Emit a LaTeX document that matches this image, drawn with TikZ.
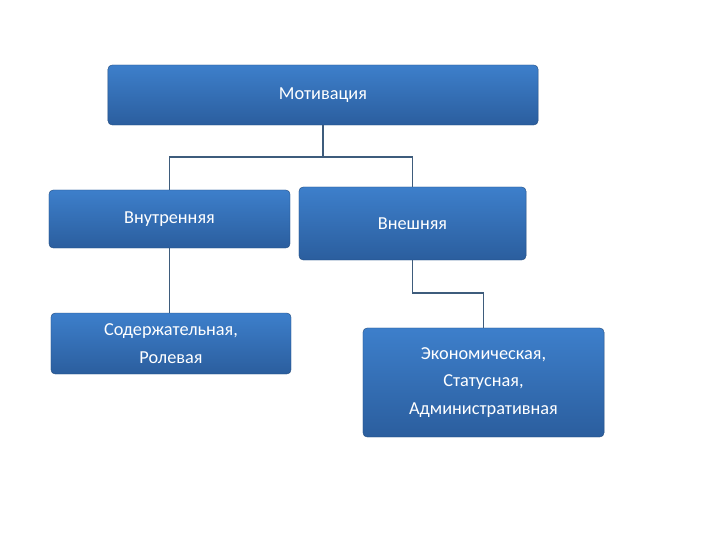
\documentclass[tikz,border=0pt]{standalone}
\usepackage{fontspec}
\setmainfont{Carlito}
\usetikzlibrary{positioning}

\definecolor{sinijverh}{HTML}{3D7FCB}
\definecolor{sinijniz}{HTML}{2B5E9E}
\definecolor{liniya}{HTML}{3E5C7C}

\begin{document}
\begin{tikzpicture}[x=0.025cm, y=-0.025cm,
	blok/.style={rounded corners=3pt, top color=sinijverh, bottom color=sinijniz,
		draw=sinijniz!80!black, line width=0.3pt, text=white, align=center, inner sep=0pt,
		font=\fontsize{13}{19.5}\selectfont},
	svyaz/.style={liniya, line width=1.4pt}]
				% Размер рисунка
				\useasboundingbox (0,0) rectangle (720,540);
				
				% Блоки схемы
				\node[blok, minimum width=10.75cm, minimum height=1.5cm] (motiv) at (323,95) {Мотивация};
				\node[blok, minimum width=6.025cm, minimum height=1.45cm] (vnutr) at (169.5,219) {Внутренняя};
				\node[blok, minimum width=5.675cm, minimum height=1.825cm] (vnesh) at (412.5,223.5) {Внешняя};
				\node[blok, minimum width=6cm, minimum height=1.525cm] (soder) at (171,343.5) {Содержательная,\\Ролевая};
				\node[blok, minimum width=6.025cm, minimum height=2.725cm] (ekon) at (483.5,382.5) {Экономическая,\\Статусная,\\Административная};
				
				% Точка разветвления
				\coordinate (razv) at (323,157);
				
				% Соединительные линии
				\draw[svyaz] (motiv.south) -- (razv);
				\draw[svyaz] (vnutr.north) |- (razv) -| (vnesh.north);
				\draw[svyaz] (vnutr.south) -- (vnutr.south |- soder.north);
				\draw[svyaz] (vnesh.south) -- ++(0,33) -| (ekon.north);
			\end{tikzpicture}
\end{document}
